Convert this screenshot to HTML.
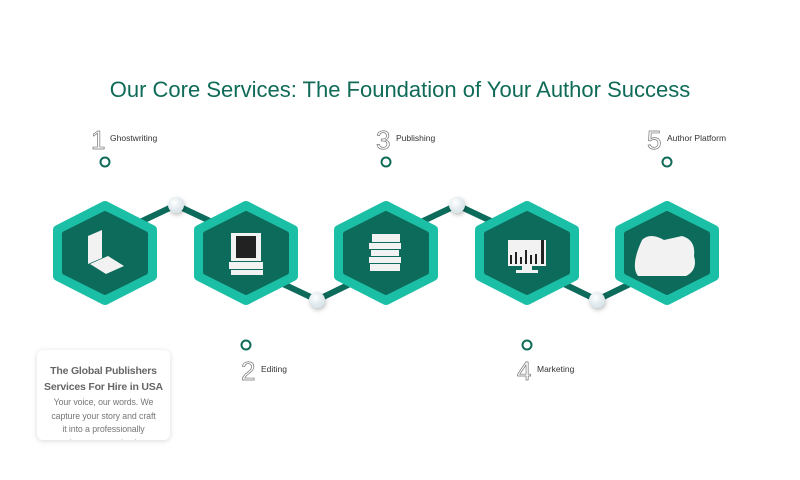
<!DOCTYPE html>
<html><head><meta charset="utf-8"><style>
body{margin:0;width:800px;height:480px;background:#fff;overflow:hidden;font-family:"Liberation Sans",sans-serif;position:relative}
.t{position:absolute;left:0;width:800px;top:77px;text-align:center;font-size:22px;color:#0f6b58}
.card{position:absolute;left:37px;top:350px;width:133px;height:90px;background:#fff;border-radius:6px;box-shadow:0 1px 6px rgba(0,0,0,.15);text-align:center;overflow:hidden}
.card h4{margin:13px 0 1px;font-size:10.5px;line-height:16px;color:#666;font-weight:bold;letter-spacing:-0.2px}
.card p{margin:0;font-size:8.8px;line-height:13.5px;color:#777;letter-spacing:-0.1px}
</style></head><body>
<div class="t">Our Core Services: The Foundation of Your Author Success</div>
<svg width="800" height="480" style="position:absolute;left:0;top:0">
<defs>
<radialGradient id="dg" cx="40%" cy="35%"><stop offset="0" stop-color="#fff"/><stop offset="1" stop-color="#dde8ec"/></radialGradient>
<g id="hex">
<polygon points="0,-47 47,-23 47,23 0,47 -47,23 -47,-23" fill="#1bbfa6" stroke="#1bbfa6" stroke-width="10" stroke-linejoin="round"/>
<polygon points="0,-39 40,-19 40,19 0,39 -40,19 -40,-19" fill="#0d6b5b" stroke="#0d6b5b" stroke-width="6" stroke-linejoin="round"/>
</g>
</defs>
<g stroke="#0d6b5b" stroke-width="6">
<line x1="140" y1="222" x2="176" y2="205"/><line x1="176" y1="205" x2="212" y2="222"/>
<line x1="281" y1="283" x2="317" y2="300"/><line x1="317" y1="300" x2="352" y2="283"/>
<line x1="421" y1="222" x2="457" y2="205"/><line x1="457" y1="205" x2="493" y2="222"/>
<line x1="562" y1="283" x2="597" y2="300"/><line x1="597" y1="300" x2="632" y2="283"/>
</g>
<g fill="url(#dg)" style="filter:drop-shadow(1px 2px 2px rgba(0,0,0,.25))">
<circle cx="176" cy="205" r="8"/><circle cx="317" cy="300" r="8"/><circle cx="457" cy="205" r="8"/><circle cx="597" cy="300" r="8"/>
</g>
<use href="#hex" x="105" y="253"/><use href="#hex" x="246" y="253"/><use href="#hex" x="386" y="253"/><use href="#hex" x="527" y="253"/><use href="#hex" x="667" y="253"/>
<g fill="#f2f2f2">
<path d="M88,236 l14,-6 l0,28 l-14,6z"/><path d="M90,264 l18,-8 l16,10 l-18,8z"/>
<rect x="231" y="233" width="30" height="28"/><rect x="229" y="262" width="34" height="7"/><rect x="231" y="270" width="32" height="5"/>
<rect x="372" y="234" width="28" height="8"/><rect x="369" y="243" width="32" height="6"/><rect x="371" y="250" width="28" height="6"/><rect x="369" y="257" width="32" height="6"/><rect x="370" y="264" width="30" height="7"/>
<rect x="508" y="240" width="38" height="26"/><rect x="522" y="266" width="10" height="4"/><rect x="516" y="270" width="22" height="3"/>
<path d="M642,240 q8,-8 22,0 l18,-4 q14,4 12,20 q4,14 -8,20 l-48,0 q-8,-10 4,-36z"/>
</g>
<g fill="#222"><rect x="236" y="236" width="20" height="22"/><rect x="510" y="255" width="2" height="9"/><rect x="515" y="252" width="2" height="12"/><rect x="520" y="257" width="2" height="7"/><rect x="525" y="250" width="2" height="14"/><rect x="530" y="255" width="2" height="9"/><rect x="535" y="254" width="2" height="10"/><rect x="541" y="240" width="3" height="24"/></g>
<g fill="none" stroke="#0f6b58" stroke-width="2"><circle cx="105" cy="162" r="4.5"/><circle cx="386" cy="162" r="4.5"/><circle cx="667" cy="162" r="4.5"/><circle cx="246" cy="345" r="4.5"/><circle cx="527" cy="345" r="4.5"/></g>
<g font-size="26" fill="#fff" stroke="#777" stroke-width="0.7" font-family="Liberation Sans,sans-serif">
<text x="91" y="149">1</text><text x="376" y="149">3</text><text x="647" y="149">5</text><text x="241" y="380">2</text><text x="517" y="380">4</text>
</g>
<g font-size="8.5" fill="#333">
<text x="110" y="141">Ghostwriting</text><text x="396" y="141">Publishing</text><text x="667" y="141">Author Platform</text><text x="261" y="372">Editing</text><text x="537" y="372">Marketing</text>
</g>
</svg>
<div class="card"><h4>The Global Publishers<br>Services For Hire in USA</h4><p>Your voice, our words. We<br>capture your story and craft<br>it into a professionally<br>written manuscript that</p></div>
</body></html>
